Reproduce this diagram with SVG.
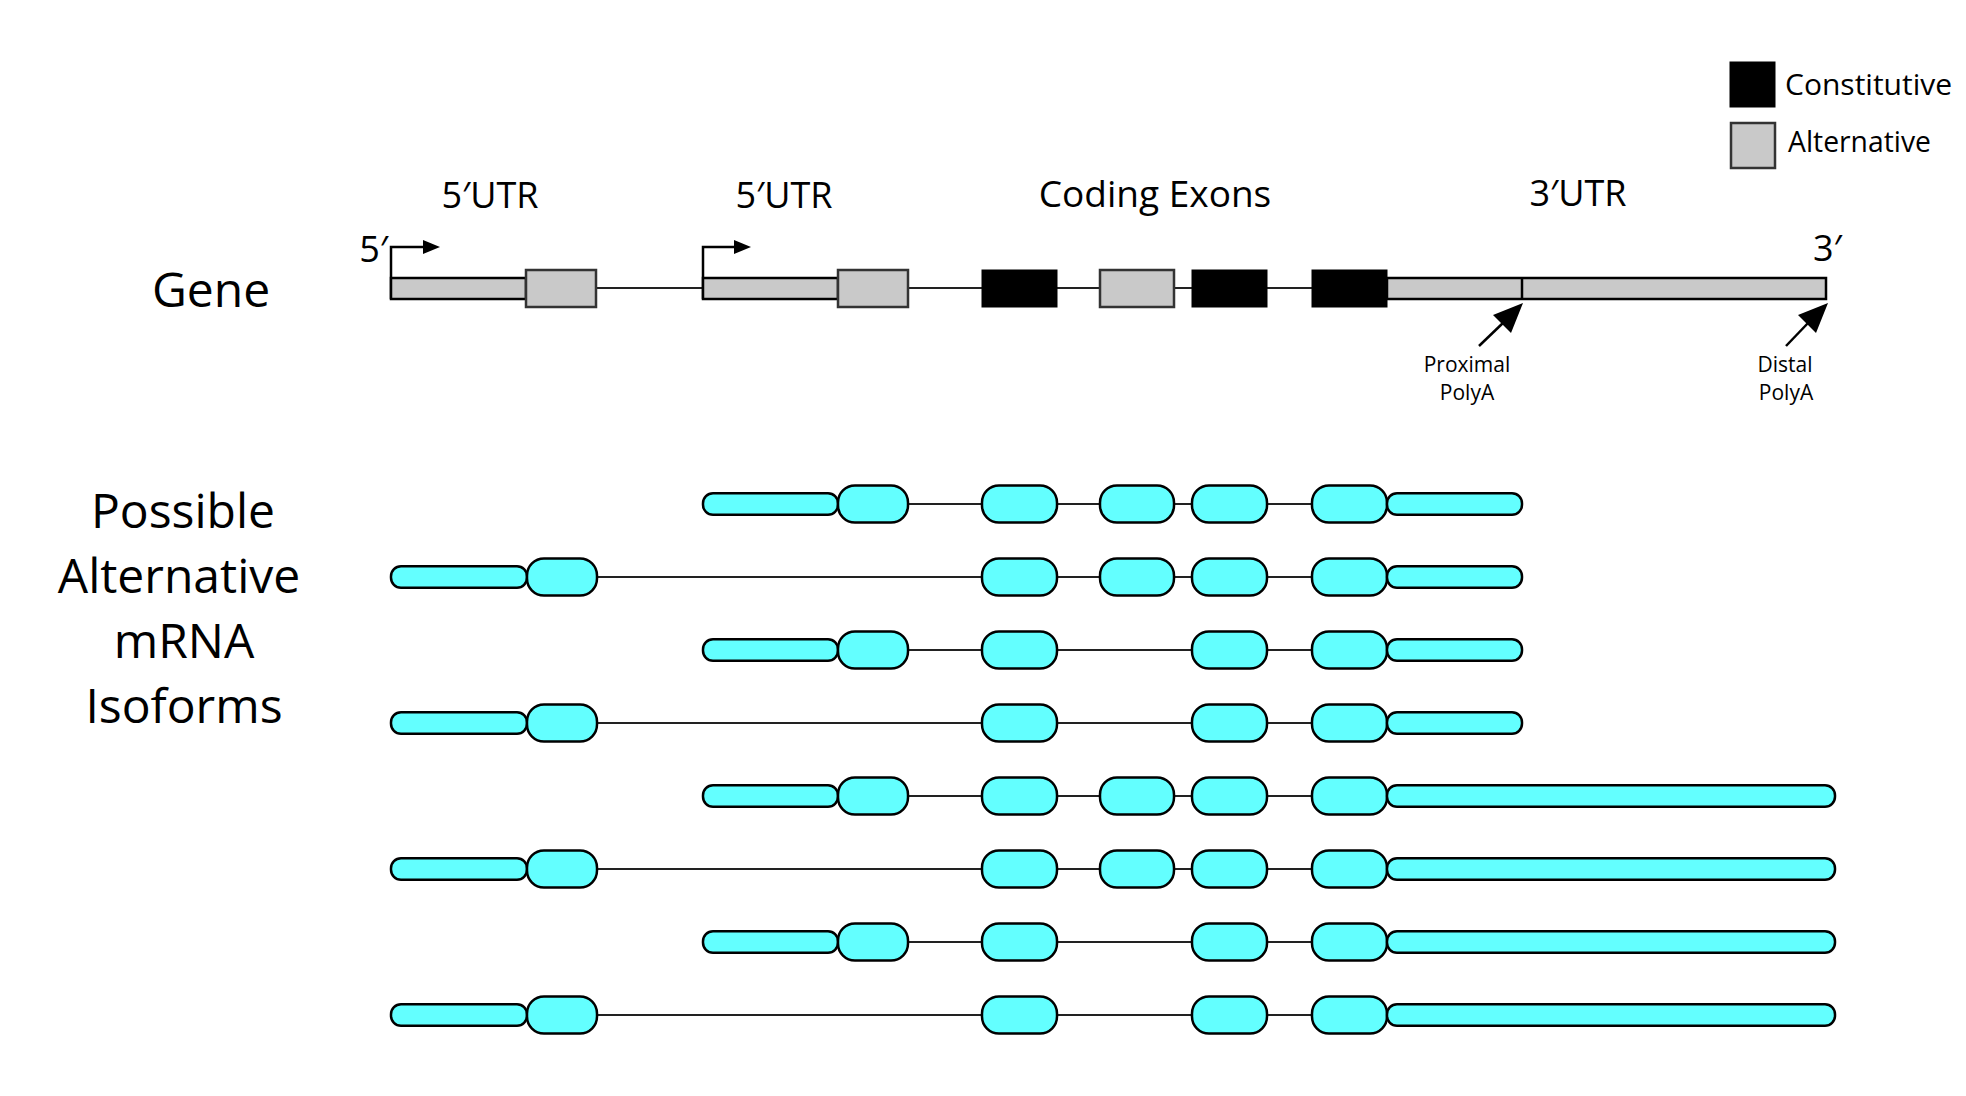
<svg xmlns="http://www.w3.org/2000/svg" width="1966" height="1096" viewBox="0 0 1966 1096">
<defs>
<style>
text{font-family:"Open Sans","Noto Sans","Liberation Sans",sans-serif;fill:#000}
.hd{font-size:36px;text-anchor:middle}
.big{font-size:48px;text-anchor:middle}
.lg{font-size:30px}
.sm{font-size:21px;text-anchor:middle}
.gbar{fill:#c9c9c9;stroke:#000;stroke-width:2.5}
.gbox{fill:#c9c9c9;stroke:#333;stroke-width:2.5}
.cbox{fill:#000;stroke:#000;stroke-width:1}
.utr{fill:#63ffff;stroke:#000;stroke-width:2.5}
.ex{fill:#63ffff;stroke:#000;stroke-width:2.5}
.intr{stroke:#222;stroke-width:2;fill:none}
.arr{stroke:#000;stroke-width:2.5;fill:none}
</style>
</defs>
<rect width="1966" height="1096" fill="#fff"/>

<g id="legend">
<rect x="1730" y="62" width="45" height="45" class="cbox"/>
<rect x="1731" y="123" width="44" height="45" class="gbox"/>
<text x="1785" y="95" class="lg">Constitutive</text>
<text x="1788" y="152" class="lg" textLength="143" lengthAdjust="spacingAndGlyphs">Alternative</text>
</g>

<g id="labels">
<text x="490" y="208" class="hd">5′UTR</text>
<text x="784" y="208" class="hd">5′UTR</text>
<text x="1155" y="207" class="hd" style="font-size:37px">Coding Exons</text>
<text x="1578" y="206" class="hd">3′UTR</text>
<text x="388" y="262" class="hd" style="text-anchor:end">5′</text>
<text x="1813" y="261" class="hd" style="text-anchor:start">3′</text>
<text x="211" y="307" class="big">Gene</text>
<text x="183" y="528" class="big">Possible</text>
<text x="179" y="593" class="big">Alternative</text>
<text x="184" y="658" class="big">mRNA</text>
<text x="184" y="723" class="big">Isoforms</text>
<text x="1467" y="372" class="sm">Proximal</text>
<text x="1467" y="400" class="sm">PolyA</text>
<text x="1785" y="372" class="sm">Distal</text>
<text x="1786" y="400" class="sm">PolyA</text>
</g>

<g id="connectors">
<line x1="596" y1="288" x2="703" y2="288" class="intr"/>
<line x1="908" y1="288" x2="982" y2="288" class="intr"/>
<line x1="1057" y1="288" x2="1100" y2="288" class="intr"/>
<line x1="1174" y1="288" x2="1192" y2="288" class="intr"/>
<line x1="1267" y1="288" x2="1312" y2="288" class="intr"/>
<path d="M391 299 V247 H425" class="arr"/>
<polygon points="440,247 423,240 423,254" fill="#000"/>
<path d="M703 299 V247 H736" class="arr"/>
<polygon points="751,247 734,240 734,254" fill="#000"/>
<line x1="1479" y1="346" x2="1504" y2="322" class="arr"/>
<polygon points="1523,303 1493,315 1511,333" fill="#000"/>
<line x1="1786" y1="346" x2="1809" y2="322" class="arr"/>
<polygon points="1828,303 1798,315 1816,333" fill="#000"/>
<path class="intr" d="M908 504H982M1057 504H1100M1174 504H1192M1267 504H1312"/>
<path class="intr" d="M597 577H982M1057 577H1100M1174 577H1192M1267 577H1312"/>
<path class="intr" d="M908 650H982M1057 650H1192M1267 650H1312"/>
<path class="intr" d="M597 723H982M1057 723H1192M1267 723H1312"/>
<path class="intr" d="M908 796H982M1057 796H1100M1174 796H1192M1267 796H1312"/>
<path class="intr" d="M597 869H982M1057 869H1100M1174 869H1192M1267 869H1312"/>
<path class="intr" d="M908 942H982M1057 942H1192M1267 942H1312"/>
<path class="intr" d="M597 1015H982M1057 1015H1192M1267 1015H1312"/>
</g>

<g id="gene">
<rect x="391" y="278" width="135" height="21" class="gbar"/>
<rect x="526" y="270" width="70" height="37" class="gbox"/>
<rect x="703" y="278" width="135" height="21" class="gbar"/>
<rect x="838" y="270" width="70" height="37" class="gbox"/>
<rect x="982" y="270" width="75" height="37" class="cbox"/>
<rect x="1100" y="270" width="74" height="37" class="gbox"/>
<rect x="1192" y="270" width="75" height="37" class="cbox"/>
<rect x="1312" y="270" width="75" height="37" class="cbox"/>
<rect x="1387" y="278" width="439" height="21" class="gbar"/>
<line x1="1522" y1="278" x2="1522" y2="299" stroke="#000" stroke-width="2.5"/>
</g>

<g id="isoform1" transform="translate(0,504)">
<rect x="703" y="-10.75" width="135" height="21.5" rx="10" class="utr"/>
<rect x="838" y="-18.5" width="70" height="37" rx="17" class="ex"/>
<rect x="982" y="-18.5" width="75" height="37" rx="17" class="ex"/>
<rect x="1100" y="-18.5" width="74" height="37" rx="17" class="ex"/>
<rect x="1192" y="-18.5" width="75" height="37" rx="17" class="ex"/>
<rect x="1312" y="-18.5" width="75" height="37" rx="17" class="ex"/>
<rect x="1387" y="-10.75" width="135" height="21.5" rx="10" class="utr"/>
</g>
<g id="isoform2" transform="translate(0,577)">
<rect x="391" y="-10.75" width="136" height="21.5" rx="10" class="utr"/>
<rect x="527" y="-18.5" width="70" height="37" rx="17" class="ex"/>
<rect x="982" y="-18.5" width="75" height="37" rx="17" class="ex"/>
<rect x="1100" y="-18.5" width="74" height="37" rx="17" class="ex"/>
<rect x="1192" y="-18.5" width="75" height="37" rx="17" class="ex"/>
<rect x="1312" y="-18.5" width="75" height="37" rx="17" class="ex"/>
<rect x="1387" y="-10.75" width="135" height="21.5" rx="10" class="utr"/>
</g>
<g id="isoform3" transform="translate(0,650)">
<rect x="703" y="-10.75" width="135" height="21.5" rx="10" class="utr"/>
<rect x="838" y="-18.5" width="70" height="37" rx="17" class="ex"/>
<rect x="982" y="-18.5" width="75" height="37" rx="17" class="ex"/>
<rect x="1192" y="-18.5" width="75" height="37" rx="17" class="ex"/>
<rect x="1312" y="-18.5" width="75" height="37" rx="17" class="ex"/>
<rect x="1387" y="-10.75" width="135" height="21.5" rx="10" class="utr"/>
</g>
<g id="isoform4" transform="translate(0,723)">
<rect x="391" y="-10.75" width="136" height="21.5" rx="10" class="utr"/>
<rect x="527" y="-18.5" width="70" height="37" rx="17" class="ex"/>
<rect x="982" y="-18.5" width="75" height="37" rx="17" class="ex"/>
<rect x="1192" y="-18.5" width="75" height="37" rx="17" class="ex"/>
<rect x="1312" y="-18.5" width="75" height="37" rx="17" class="ex"/>
<rect x="1387" y="-10.75" width="135" height="21.5" rx="10" class="utr"/>
</g>
<g id="isoform5" transform="translate(0,796)">
<rect x="703" y="-10.75" width="135" height="21.5" rx="10" class="utr"/>
<rect x="838" y="-18.5" width="70" height="37" rx="17" class="ex"/>
<rect x="982" y="-18.5" width="75" height="37" rx="17" class="ex"/>
<rect x="1100" y="-18.5" width="74" height="37" rx="17" class="ex"/>
<rect x="1192" y="-18.5" width="75" height="37" rx="17" class="ex"/>
<rect x="1312" y="-18.5" width="75" height="37" rx="17" class="ex"/>
<rect x="1387" y="-10.75" width="448" height="21.5" rx="10" class="utr"/>
</g>
<g id="isoform6" transform="translate(0,869)">
<rect x="391" y="-10.75" width="136" height="21.5" rx="10" class="utr"/>
<rect x="527" y="-18.5" width="70" height="37" rx="17" class="ex"/>
<rect x="982" y="-18.5" width="75" height="37" rx="17" class="ex"/>
<rect x="1100" y="-18.5" width="74" height="37" rx="17" class="ex"/>
<rect x="1192" y="-18.5" width="75" height="37" rx="17" class="ex"/>
<rect x="1312" y="-18.5" width="75" height="37" rx="17" class="ex"/>
<rect x="1387" y="-10.75" width="448" height="21.5" rx="10" class="utr"/>
</g>
<g id="isoform7" transform="translate(0,942)">
<rect x="703" y="-10.75" width="135" height="21.5" rx="10" class="utr"/>
<rect x="838" y="-18.5" width="70" height="37" rx="17" class="ex"/>
<rect x="982" y="-18.5" width="75" height="37" rx="17" class="ex"/>
<rect x="1192" y="-18.5" width="75" height="37" rx="17" class="ex"/>
<rect x="1312" y="-18.5" width="75" height="37" rx="17" class="ex"/>
<rect x="1387" y="-10.75" width="448" height="21.5" rx="10" class="utr"/>
</g>
<g id="isoform8" transform="translate(0,1015)">
<rect x="391" y="-10.75" width="136" height="21.5" rx="10" class="utr"/>
<rect x="527" y="-18.5" width="70" height="37" rx="17" class="ex"/>
<rect x="982" y="-18.5" width="75" height="37" rx="17" class="ex"/>
<rect x="1192" y="-18.5" width="75" height="37" rx="17" class="ex"/>
<rect x="1312" y="-18.5" width="75" height="37" rx="17" class="ex"/>
<rect x="1387" y="-10.75" width="448" height="21.5" rx="10" class="utr"/>
</g>
</svg>
